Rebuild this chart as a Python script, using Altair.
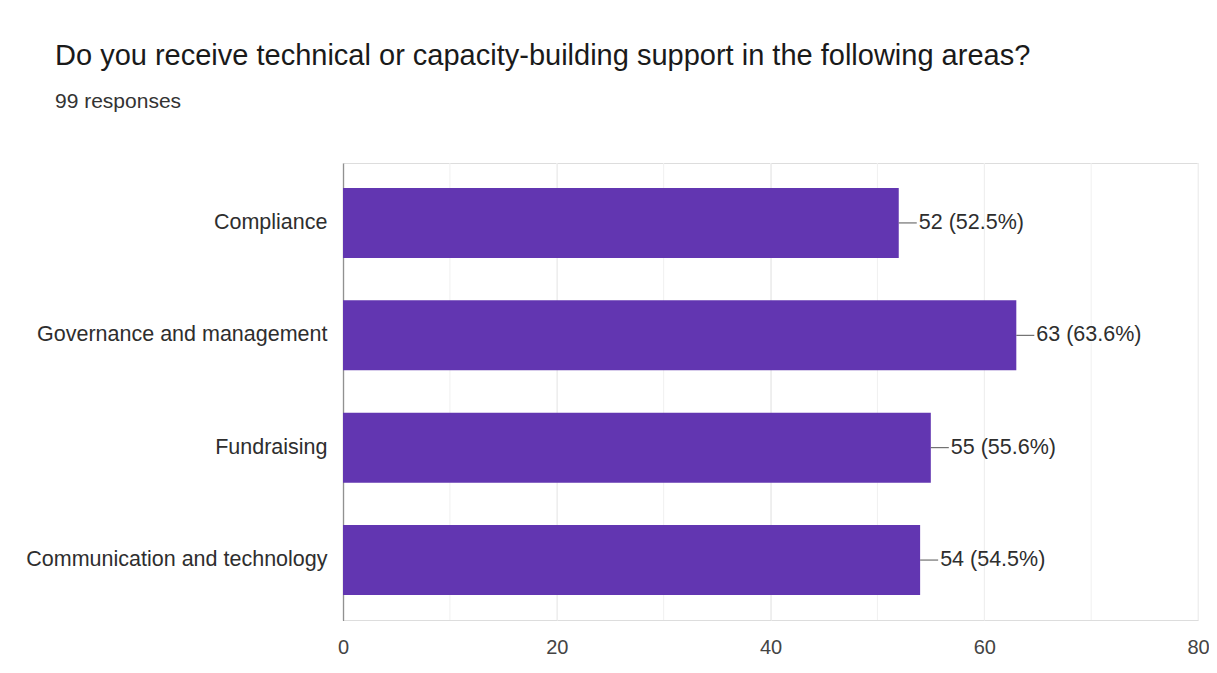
import altair as alt
import pandas as pd

categories = ["Compliance", "Governance and management", "Fundraising", "Communication and technology"]
counts = [52, 63, 55, 54]
percents = ["52.5", "63.6", "55.6", "54.5"]
x_ticks = [0, 20, 40, 60, 80]
grid_vals = [0, 10, 20, 30, 40, 50, 60, 70, 80]

df = pd.DataFrame({
    "category": categories,
    "count": counts,
    "label": [f"{c} ({p}%)" for c, p in zip(counts, percents)],
})

FONT = "Liberation Sans"

y_enc = alt.Y("category:N", sort=categories, title=None,
              scale=alt.Scale(paddingInner=0.377, paddingOuter=0.222),
              axis=alt.Axis(labelFontSize=21.5, labelColor="#2e2e2e", labelFont=FONT,
                            labelLimit=0, ticks=False, labelPadding=16, domain=True,
                            domainColor="#333333", domainWidth=1.2, grid=False))

x_enc = alt.X("count:Q", title=None,
              scale=alt.Scale(domain=[0, 80], nice=False),
              axis=alt.Axis(values=x_ticks, labelFontSize=20, labelColor="#444444",
                            labelFont=FONT, ticks=False, labelPadding=17, domain=False,
                            labelFlush=False,
                            grid=True, gridColor="#eeeeee", gridWidth=1))

bars = alt.Chart(df).mark_bar(color="#6236b1").encode(x=x_enc, y=y_enc)

leader = alt.Chart(df).mark_rule(color="#555555", strokeWidth=1, x2Offset=18).encode(
    x="count:Q", x2="count:Q", y=alt.Y("category:N", sort=categories, bandPosition=0.5))

labels = alt.Chart(df).mark_text(align="left", baseline="middle", dx=20, fontSize=21.5,
                                 font=FONT, color="#2e2e2e").encode(
    x="count:Q", y=alt.Y("category:N", sort=categories), text="label:N")

grid = alt.Chart(pd.DataFrame({"g": grid_vals})).mark_rule(color="#f0f0f0", strokeWidth=1).encode(
    x=alt.X("g:Q"))

chart = alt.layer(grid, bars, leader, labels).properties(
    width=855, height=457,
    autosize=alt.AutoSizeParams(type="none"),
    padding={"left": 335, "top": 155, "right": 11, "bottom": 45},
    title=alt.TitleParams(
        text="Do you receive technical or capacity-building support in the following areas?",
        subtitle="99 responses",
        anchor="start", frame="group", dx=-288, dy=-47,
        font=FONT, fontSize=29, fontWeight="normal", color="#1a1a1a",
        subtitleFont=FONT, subtitleFontSize=21, subtitleColor="#333333",
        subtitlePadding=20),
).configure_view(stroke="#e8e8e8", strokeWidth=1).configure(background="#ffffff")

chart.save("out.html", embed_options={"renderer": "svg", "actions": False})
